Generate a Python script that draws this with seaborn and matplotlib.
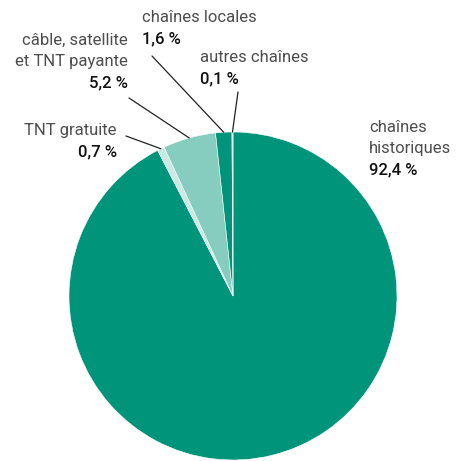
import numpy as np
import matplotlib
matplotlib.use("Agg")
import matplotlib.pyplot as plt
import seaborn as sns

# Parts d'audience par type de chaîne (ordre horaire depuis midi)
labels = ["chaînes\nhistoriques", "TNT gratuite", "câble, satellite\net TNT payante",
          "chaînes locales", "autres chaînes"]
values = [92.4, 0.7, 5.2, 1.6, 0.1]
value_labels = ["92,4\u202f%", "0,7\u202f%", "5,2\u202f%", "1,6\u202f%", "0,1\u202f%"]
colors = ["#00947a", "#c9e9e2", "#86ccbf", "#00947a", "#c9e9e2"]

sns.set_theme(style="white")
plt.rcParams["font.family"] = ["Roboto", "DejaVu Sans"]

W, H = 459, 461
fig = plt.figure(figsize=(W / 100, H / 100), dpi=100)
ax = fig.add_axes([0, 0, 1, 1])

# pie en coordonnées "pixels" (y vers le bas -> on inverse le sens)
cx, cy, r = 233, 296, 164
wedges, _ = ax.pie(values, colors=colors, startangle=-90, counterclock=True,
                   center=(cx, cy), radius=r, frame=True,
                   wedgeprops=dict(edgecolor="white", linewidth=0.4))
ax.set_xlim(0, W)
ax.set_ylim(H, 0)
ax.set_aspect("equal")
ax.axis("off")

# position des étiquettes (x, y du premier texte, alignement) et départ du trait
label_pos = {
    0: (369, 127, "left", None),
    1: (117, 130, "right", (126, 136)),
    2: (128, 40, "right", (129, 98)),
    3: (142, 17, "left", (152, 56)),
    4: (200, 57, "left", (238, 92)),
}
lh = 21.5
for i, w in enumerate(wedges):
    x, y, ha, start = label_pos[i]
    lines = labels[i].split("\n")
    for k, line in enumerate(lines):
        ax.text(x, y + k * lh, line, ha=ha, va="center", fontsize=12, color="#4d4d4d")
    ax.text(x, y + len(lines) * lh, value_labels[i], ha=ha, va="center",
            fontsize=12, color="#111111", fontweight="medium")
    if start is not None:
        ang = np.deg2rad((w.theta1 + w.theta2) / 2)
        ex, ey = cx + r * np.cos(ang), cy + r * np.sin(ang)
        ax.plot([start[0], ex], [start[1], ey], color="#222222", lw=0.9)

fig.savefig("out.png", dpi=100)
